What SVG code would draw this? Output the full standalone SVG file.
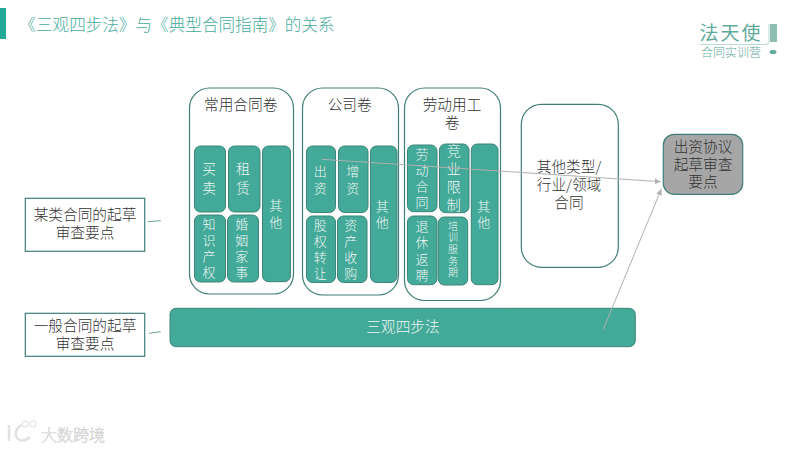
<svg xmlns="http://www.w3.org/2000/svg" width="800" height="450" viewBox="0 0 800 450">
<defs>
<marker id="arr" markerWidth="8" markerHeight="8" refX="6" refY="3" orient="auto" markerUnits="userSpaceOnUse"><path d="M0,0 L6,3 L0,6 Z" fill="#b0b0b0"/></marker>
</defs>
<style>
text{font-family:"Noto Sans CJK SC","Liberation Sans",sans-serif;text-anchor:middle;font-weight:300}
.o{fill:#fff;stroke:#3f7f78;stroke-width:1.2}
.i{fill:#43a998;stroke:#3d8479;stroke-width:1}
.w{fill:#eef7f5;font-size:14px}
.s{fill:#eef7f5;font-size:13px}
.t{fill:#eef7f5;font-size:10px}
.d{fill:#333;font-size:14.67px}
.c{stroke:#b0b0b0;stroke-width:1;fill:none}
.l{stroke:#6f9f98;stroke-width:1;fill:none}
</style>
<rect width="800" height="450" fill="#fff"/>
<g id="title">
<rect x="0" y="8" width="6" height="31" fill="#22a896"/>
<text x="177" y="31" style="font-size:16.6px;fill:#45ab9b">《三观四步法》与《典型合同指南》的关系</text>
</g>
<g id="logo">
<text x="731" y="40" style="font-size:19px;font-weight:400;fill:#5fa99b;letter-spacing:2px">法天使</text>
<path d="M700,44.500H766Q769,44.500 769,41V24" stroke="#a9d0c8" stroke-width="0.800" fill="none"/>
<rect x="770" y="24" width="7" height="18" fill="#8fbdb3"/>
<text x="731" y="57" style="font-size:12px;fill:#5fa99b">合同实训营</text>
<ellipse cx="773" cy="52" rx="3.500" ry="2" fill="#5fa99b"/>
</g>
<g id="juan-changyong">
<rect class="o" x="189.500" y="88" width="104" height="206" rx="20"/>
<text class="d" x="240.700" y="110">常用合同卷</text>
</g>
<g id="n-maimai"><rect class="i" x="194.500" y="146" width="31" height="66" rx="6"/><text class="w" x="209" y="174">买<tspan x="209" dy="18.500">卖</tspan></text></g>
<g id="n-zulin"><rect class="i" x="228.500" y="146" width="31.500" height="66" rx="6"/><text class="w" x="243" y="174">租<tspan x="243" dy="18.500">赁</tspan></text></g>
<g id="n-qita1"><rect class="i" x="262.500" y="146" width="28" height="135.700" rx="6"/><text class="s" x="275.700" y="210">其<tspan x="275.700" dy="16.500">他</tspan></text></g>
<g id="n-zhishi"><rect class="i" x="194.500" y="215" width="31" height="67" rx="6"/><text class="s" x="209" y="229">知<tspan x="209" dy="16">识</tspan><tspan x="209" dy="16">产</tspan><tspan x="209" dy="16">权</tspan></text></g>
<g id="n-hunyin"><rect class="i" x="227.500" y="215" width="31" height="67" rx="6"/><text class="s" x="241.700" y="229">婚<tspan x="241.700" dy="16">姻</tspan><tspan x="241.700" dy="16">家</tspan><tspan x="241.700" dy="16">事</tspan></text></g>
<g id="juan-gongsi">
<rect class="o" x="302.500" y="88" width="96" height="207" rx="20"/>
<text class="d" x="349.700" y="110">公司卷</text>
</g>
<g id="n-chuzi"><rect class="i" x="306.500" y="146" width="29" height="66.500" rx="6"/><text class="s" x="320.300" y="175.500">出<tspan x="320.300" dy="17.500">资</tspan></text></g>
<g id="n-zengzi"><rect class="i" x="338.500" y="146" width="29.500" height="66.500" rx="6"/><text class="s" x="352.700" y="175.500">增<tspan x="352.700" dy="17.500">资</tspan></text></g>
<g id="n-qita2"><rect class="i" x="370.500" y="146" width="26.500" height="136.500" rx="6"/><text class="s" x="382.300" y="210.500">其<tspan x="382.300" dy="16.500">他</tspan></text></g>
<g id="n-guquan"><rect class="i" x="306.500" y="216" width="29" height="66.500" rx="6"/><text class="s" x="320.300" y="229.500">股<tspan x="320.300" dy="16">权</tspan><tspan x="320.300" dy="16">转</tspan><tspan x="320.300" dy="16">让</tspan></text></g>
<g id="n-zichan"><rect class="i" x="337.500" y="216" width="29.500" height="66.500" rx="6"/><text class="s" x="350.700" y="229.500">资<tspan x="350.700" dy="16">产</tspan><tspan x="350.700" dy="16">收</tspan><tspan x="350.700" dy="16">购</tspan></text></g>
<g id="juan-laodong">
<rect class="o" x="404.500" y="88" width="96" height="212.500" rx="20"/>
<text class="d" x="452" y="109.500">劳动用工<tspan x="452" dy="18.500">卷</tspan></text>
</g>
<g id="n-laodong"><rect class="i" x="407.500" y="145" width="29.500" height="66.700" rx="6"/><text class="s" x="422" y="158.500">劳<tspan x="422" dy="16">动</tspan><tspan x="422" dy="16.500">合</tspan><tspan x="422" dy="16">同</tspan></text></g>
<g id="n-jingye"><rect class="i" x="439.500" y="144" width="29.500" height="68.700" rx="6"/><text class="w" x="453.700" y="156">竞<tspan x="453.700" dy="18">业</tspan><tspan x="453.700" dy="18">限</tspan><tspan x="453.700" dy="18">制</tspan></text></g>
<g id="n-qita3"><rect class="i" x="471.300" y="144" width="26.700" height="140.700" rx="6"/><text class="s" x="483.700" y="210.500">其<tspan x="483.700" dy="16.500">他</tspan></text></g>
<g id="n-tuixiu"><rect class="i" x="407.500" y="216" width="29.500" height="68.700" rx="6"/><text class="s" x="422" y="230.500">退<tspan x="422" dy="16.500">休</tspan><tspan x="422" dy="16.500">返</tspan><tspan x="422" dy="16">聘</tspan></text></g>
<g id="n-peixun"><rect class="i" x="438.300" y="217" width="29.400" height="68" rx="6"/><text class="t" x="453" y="229.500">培<tspan x="453" dy="11.700">训</tspan><tspan x="453" dy="12.200">服</tspan><tspan x="453" dy="12">务</tspan><tspan x="453" dy="11">期</tspan></text></g>
<g id="n-other">
<rect class="o" x="521.300" y="104.300" width="97" height="163" rx="20"/>
<text class="d" x="569" y="172.300">其他类型/<tspan x="569" dy="17.700">行业/领域</tspan><tspan x="569" dy="18.300">合同</tspan></text>
</g>
<g id="n-result">
<rect x="663.300" y="134.300" width="79.400" height="60" rx="11" fill="#a6a6a6" stroke="#3f7f78" stroke-width="1.200"/>
<text class="d" x="703" y="151.700">出资协议<tspan x="703" dy="18">起草审查</tspan><tspan x="703" dy="17.500">要点</tspan></text>
</g>
<g id="n-sanguan">
<rect class="i" x="170" y="308.300" width="465.300" height="38.400" rx="6"/>
<text x="403" y="332" style="fill:#eef7f5;font-size:14.67px">三观四步法</text>
</g>
<g id="n-moulei">
<rect x="25.300" y="198.300" width="119.400" height="53" fill="#fff" stroke="#3f7f78" stroke-width="1.200"/>
<text class="d" x="85" y="220">某类合同的起草<tspan x="85" dy="18.300">审查要点</tspan></text>
</g>
<g id="n-yiban">
<rect x="25.300" y="313.300" width="119.400" height="43" fill="#fff" stroke="#3f7f78" stroke-width="1.200"/>
<text class="d" x="85" y="331">一般合同的起草<tspan x="85" dy="18">审查要点</tspan></text>
</g>
<g id="connectors">
<path class="l" d="M147.700,221.700L160.700,220.700"/>
<path class="l" d="M149,333.300L160.700,331.700"/>
<path class="c" d="M321.700,159.300L660.700,181.700" marker-end="url(#arr)"/>
<path class="c" d="M603.300,329.300L661.300,189" marker-end="url(#arr)"/>
</g>
<g id="watermark">
<path d="M9,425V441M21,425Q12,433 18,439Q24,443 30,437" stroke="#e2e2e2" stroke-width="2.500" fill="none"/>
<circle cx="25" cy="424" r="3" fill="none" stroke="#e2e2e2" stroke-width="1.200"/>
<circle cx="33" cy="424" r="3" fill="none" stroke="#e2e2e2" stroke-width="1.200"/>
<text x="73" y="441" style="font-size:16px;fill:#fff;stroke:#d8d8d8;stroke-width:0.700">大数跨境</text>
</g>
</svg>
